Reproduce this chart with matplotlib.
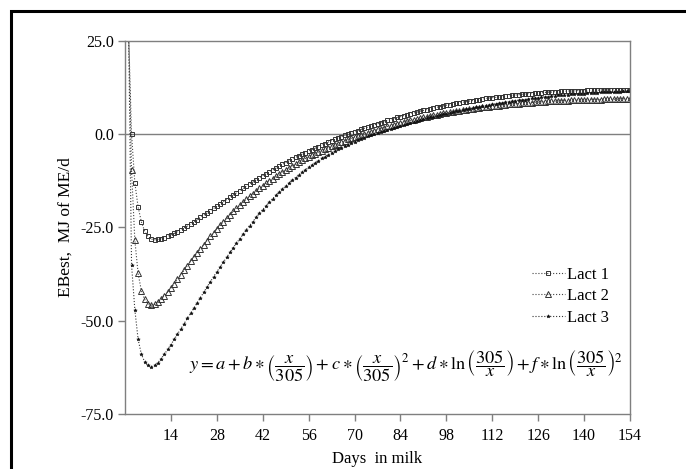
import numpy as np
import matplotlib.pyplot as plt
from matplotlib.patches import Rectangle

plt.rcParams['font.family'] = 'Liberation Serif'
plt.rcParams['mathtext.fontset'] = 'stix'

# days in milk, 1..154
days = list(range(1, 155))

lact1 = [30, 0, -13, -19.5, -23.5, -26.0, -27.4, -28.1, -28.3, -28.2,
         -28.0, -27.7, -27.4, -27.0, -26.6, -26.1, -25.6, -25.1, -24.6, -24.1,
         -23.5, -22.9, -22.3, -21.7, -21.1, -20.5, -19.9, -19.3, -18.7, -18.1,
         -17.5, -16.9, -16.3, -15.7, -15.1, -14.5, -13.9, -13.3, -12.8, -12.2,
         -11.7, -11.1, -10.6, -10.1, -9.6, -9.1, -8.6, -8.1, -7.6, -7.1,
         -6.7, -6.2, -5.8, -5.3, -4.9, -4.5, -4.1, -3.7, -3.3, -2.9,
         -2.5, -2.1, -1.7, -1.4, -1.0, -0.7, -0.3, 0.0, 0.4, 0.7,
         1.0, 1.3, 1.6, 1.9, 2.2, 2.5, 2.8, 3.1, 3.4, 3.7,
         3.9, 4.2, 4.5, 4.7, 5.0, 5.2, 5.5, 5.7, 5.9, 6.2,
         6.4, 6.6, 6.8, 7.0, 7.2, 7.4, 7.6, 7.8, 7.9, 8.1,
         8.3, 8.4, 8.6, 8.7, 8.9, 9.0, 9.2, 9.3, 9.4, 9.6,
         9.7, 9.8, 9.9, 10.0, 10.1, 10.2, 10.3, 10.4, 10.5, 10.6,
         10.7, 10.8, 10.9, 10.9, 11.0, 11.1, 11.1, 11.2, 11.3, 11.3,
         11.4, 11.4, 11.5, 11.5, 11.6, 11.6, 11.6, 11.7, 11.7, 11.7,
         11.8, 11.8, 11.8, 11.8, 11.9, 11.9, 11.9, 11.9, 11.9, 11.9,
         11.9, 11.9, 11.9, 11.9]

lact2 = [32, -9.7, -28.4, -37.3, -42.0, -44.3, -45.4, -45.8, -45.6, -45.0,
         -44.2, -43.3, -42.3, -41.2, -40.1, -38.9, -37.7, -36.5, -35.3, -34.1,
         -32.9, -31.8, -30.7, -29.6, -28.5, -27.4, -26.4, -25.4, -24.4, -23.4,
         -22.5, -21.6, -20.7, -19.8, -19.0, -18.2, -17.4, -16.6, -15.9, -15.2,
         -14.5, -13.8, -13.1, -12.5, -11.9, -11.3, -10.7, -10.1, -9.6, -9.0,
         -8.5, -8.0, -7.5, -7.0, -6.5, -6.1, -5.6, -5.2, -4.8, -4.4,
         -4.0, -3.6, -3.2, -2.8, -2.5, -2.1, -1.8, -1.4, -1.1, -0.8,
         -0.5, -0.2, 0.1, 0.4, 0.7, 1.0, 1.3, 1.5, 1.8, 2.1,
         2.3, 2.6, 2.8, 3.1, 3.3, 3.5, 3.7, 3.9, 4.1, 4.3,
         4.5, 4.7, 4.9, 5.1, 5.2, 5.4, 5.6, 5.7, 5.9, 6.0,
         6.2, 6.3, 6.5, 6.6, 6.7, 6.9, 7.0, 7.1, 7.2, 7.3,
         7.4, 7.5, 7.6, 7.7, 7.8, 7.9, 8.0, 8.1, 8.2, 8.2,
         8.3, 8.4, 8.4, 8.5, 8.6, 8.6, 8.7, 8.7, 8.8, 8.8,
         8.9, 8.9, 9.0, 9.0, 9.0, 9.1, 9.1, 9.1, 9.2, 9.2,
         9.2, 9.3, 9.3, 9.3, 9.3, 9.4, 9.4, 9.4, 9.4, 9.4,
         9.5, 9.5, 9.5, 9.5]

lact3 = [35, -35.0, -47.0, -55.0, -59.0, -61.0, -62.0, -62.3, -62.0, -61.3,
         -60.2, -59.0, -57.7, -56.4, -55.0, -53.6, -52.2, -50.8, -49.4, -48.0,
         -46.6, -45.2, -43.8, -42.4, -41.0, -39.6, -38.2, -36.9, -35.6, -34.3,
         -33.0, -31.7, -30.4, -29.2, -28.0, -26.8, -25.6, -24.5, -23.4, -22.3,
         -21.2, -20.2, -19.2, -18.2, -17.3, -16.4, -15.5, -14.7, -13.9, -13.1,
         -12.3, -11.6, -10.9, -10.2, -9.5, -8.9, -8.3, -7.7, -7.1, -6.5,
         -6.0, -5.5, -5.0, -4.5, -4.0, -3.6, -3.2, -2.8, -2.4, -2.0,
         -1.6, -1.3, -0.9, -0.6, -0.3, 0.0, 0.3, 0.6, 0.9, 1.2,
         1.5, 1.8, 2.0, 2.3, 2.6, 2.8, 3.1, 3.3, 3.6, 3.8,
         4.0, 4.3, 4.5, 4.7, 4.9, 5.1, 5.3, 5.5, 5.7, 5.9,
         6.1, 6.3, 6.5, 6.7, 6.8, 7.0, 7.2, 7.3, 7.5, 7.7,
         7.8, 8.0, 8.1, 8.3, 8.4, 8.6, 8.7, 8.8, 9.0, 9.1,
         9.2, 9.3, 9.4, 9.6, 9.7, 9.8, 9.9, 10.0, 10.1, 10.2,
         10.3, 10.4, 10.4, 10.5, 10.6, 10.7, 10.7, 10.8, 10.9, 10.9,
         11.0, 11.0, 11.1, 11.1, 11.2, 11.2, 11.3, 11.3, 11.4, 11.4,
         11.4, 11.5, 11.5, 11.5]

xticks = [14, 28, 42, 56, 70, 84, 98, 112, 126, 140, 154]
yticks = [25, 0, -25, -50, -75]

fig = plt.figure(figsize=(6.86, 4.69), dpi=100)
ax = fig.add_axes([0.1822, 0.1173, 0.7362, 0.7953])

gray = '#7f7f7f'
ax.axhline(0, color=gray, lw=1.0, zorder=1)

ax.plot(days, lact1, ls=':', lw=0.8, color='#444444', marker='s', ms=3.3,
        mfc='none', mec='#333333', mew=0.7, label='Lact 1')
ax.plot(days, lact2, ls=':', lw=0.8, color='#444444', marker='^', ms=3.8,
        mfc='none', mec='#333333', mew=0.7, label='Lact 2')
ax.plot(days, lact3, ls=':', lw=0.8, color='#333333', marker='*', ms=2.6,
        mfc='#111111', mec='#111111', mew=0.4, label='Lact 3')

ax.set_xlim(0, 154)
ax.set_ylim(-75, 25)
ax.set_xticks(xticks)
ax.set_yticks(yticks)
ax.set_yticklabels(['%.1f' % v for v in yticks])
for s in ax.spines.values():
    s.set_color(gray)
    s.set_linewidth(1.0)
ax.tick_params(direction='out', length=5, width=1.0, color=gray,
               labelsize=11.5, pad=3)
ax.tick_params(axis='x', pad=5)

ax.set_xlabel('Days  in milk', fontsize=12, labelpad=5)
ax.set_ylabel('EBest,  MJ of ME/d', fontsize=12.5, labelpad=5)

ax.legend(loc='upper left', bbox_to_anchor=(0.805, 0.395), frameon=False,
          fontsize=12, handlelength=2.0, handletextpad=0.15, labelspacing=0.33,
          borderpad=0, borderaxespad=0)

eq = (r'$y = a + b \ast \left(\dfrac{x}{305}\right) + c \ast \left(\dfrac{x}{305}\right)^2'
      r' + d \ast \ln\left(\dfrac{305}{x}\right) + f \ast \ln\left(\dfrac{305}{x}\right)^2$')
ax.text(0.557, 0.128, eq, transform=ax.transAxes, ha='center', va='center',
        fontsize=13.2)

# outer black frame
fig.add_artist(Rectangle((10.5 / 686, -0.1), 1.2, 1.1 - 11.5 / 469,
                         transform=fig.transFigure, fill=False,
                         edgecolor='black', lw=2.2))

fig.savefig('out.png', dpi=100)
